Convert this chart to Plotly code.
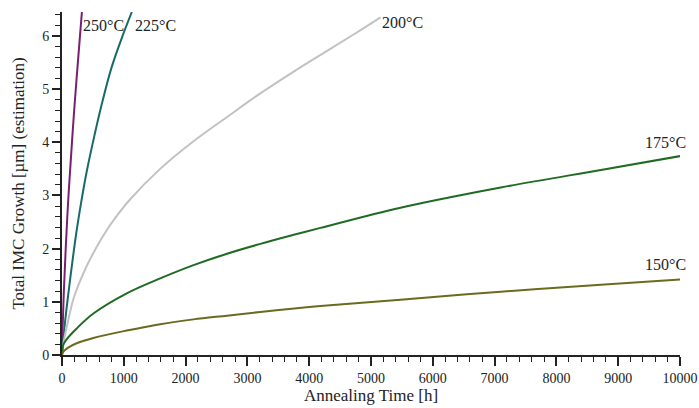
import plotly.graph_objects as go

# --- data ---
t_250 = [0, 10, 30, 60, 100, 150, 200, 260, 322]
v_250 = [0, 0.5, 1.2, 2.0, 2.9, 3.8, 4.65, 5.55, 6.45]

t_225 = [0, 43, 97, 162, 232, 300, 400, 510, 640, 800, 980, 1130]
v_225 = [0, 0.55, 1.1, 1.7, 2.3, 2.8, 3.45, 4.05, 4.7, 5.4, 6.0, 6.45]

t_200 = [0, 15, 54, 120, 178, 260, 394, 508, 692, 850, 1097, 1588, 2128, 2700, 3209, 3750, 4290, 4750, 5154]
v_200 = [0, 0.15, 0.41, 0.75, 1.03, 1.3, 1.66, 1.92, 2.29, 2.56, 2.92, 3.5, 4.02, 4.5, 4.92, 5.33, 5.72, 6.05, 6.35]

t_175 = [0, 10, 20, 100, 238, 508, 1048, 1588, 2128, 2670, 3209, 3749, 4181, 5478, 7099, 8720, 10000]
v_175 = [0, 0.12, 0.19, 0.33, 0.5, 0.78, 1.16, 1.44, 1.69, 1.905, 2.09, 2.26, 2.39, 2.77, 3.15, 3.48, 3.74]

t_150 = [0, 20, 100, 238, 508, 1048, 1588, 2128, 2670, 3209, 4181, 5478, 7099, 8720, 10000]
v_150 = [0, 0.06, 0.14, 0.22, 0.32, 0.46, 0.58, 0.67, 0.74, 0.81, 0.92, 1.04, 1.19, 1.32, 1.42]

labels = ["250°C", "225°C", "200°C", "175°C", "150°C"]
colors = ["#7a1f70", "#176b66", "#c2c2c2", "#1f6b22", "#6b6a1e"]

x_ticks = [0, 1000, 2000, 3000, 4000, 5000, 6000, 7000, 8000, 9000, 10000]
x_tick_text = ["0", "1000", "2000", "3000", "4000", "5000", "6000", "7000", "8000", "9000", "10000"]
y_ticks = [0, 1, 2, 3, 4, 5, 6]

series = [(t_250, v_250), (t_225, v_225), (t_200, v_200), (t_175, v_175), (t_150, v_150)]

FONT = "Liberation Serif, Times New Roman, serif"

fig = go.Figure()
for (t, v), name, c in zip(series, labels, colors):
    fig.add_trace(go.Scatter(x=t, y=v, mode="lines", name=name,
                             line=dict(color=c, width=2, shape="spline", smoothing=1.0),
                             showlegend=False, cliponaxis=True))

# curve labels
label_pos = [(310, 6.2), (1150, 6.2), (5150, 6.26), (9400, 4.0), (9400, 1.71)]
for name, (x, y) in zip(labels, label_pos):
    fig.add_annotation(x=x, y=y, text=name, showarrow=False, xanchor="left", yanchor="middle",
                       font=dict(family=FONT, size=16, color="#222222"))

axis_common = dict(showline=True, linecolor="#222222", linewidth=2, showgrid=False, zeroline=False,
                   ticks="outside", tickcolor="#222222", tickwidth=1.5, automargin=False,
                   tickfont=dict(family=FONT, size=14, color="#222222"))

fig.update_xaxes(range=[0, 10000], tickvals=x_ticks, ticktext=x_tick_text, ticklen=9,
                 ticklabeloverflow="allow",
                 minor=dict(dtick=200, ticks="outside", ticklen=5, tickcolor="#222222", tickwidth=1),
                 title=dict(text="Annealing Time [h]", font=dict(family=FONT, size=17, color="#222222"),
                            standoff=2),
                 **axis_common)
fig.update_yaxes(range=[0, 6.45], tickvals=y_ticks, ticklen=8,
                 minor=dict(dtick=0.2, ticks="outside", ticklen=5, tickcolor="#222222", tickwidth=1),
                 title=dict(text="Total IMC Growth [µm] (estimation)",
                            font=dict(family=FONT, size=17, color="#222222"), standoff=13),
                 **axis_common)

fig.update_layout(width=699, height=408, margin=dict(l=62, r=19, t=12, b=53),
                  plot_bgcolor="white", paper_bgcolor="white")

fig.write_html("out.html")
